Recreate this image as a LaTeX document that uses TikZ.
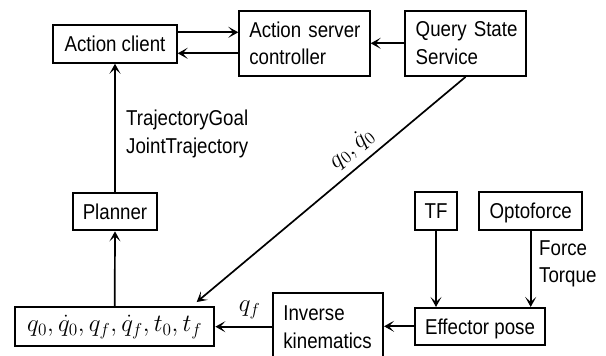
\documentclass[tikz,border=0pt]{standalone}
\usepackage{graphicx}
\usepackage{fontspec}
\setmainfont{Liberation Sans}[FakeStretch=0.87]
\usetikzlibrary{arrows.meta,calc}

% math set a little larger than the surrounding text
\newcommand{\bigmath}[1]{\scalebox{1.2}{$#1$}}

\begin{document}
\begin{tikzpicture}[x=1pt,y=-1pt,
  font=\fontsize{21.5}{27.5}\selectfont,
  box/.style={draw, line width=2pt, inner sep=0pt},
  lbl/.style={inner sep=0pt},
  arr/.style={line width=1.7pt, -{Stealth[length=10pt, width=11pt, inset=5pt]}}]

\useasboundingbox (0,0) rectangle (606,356);

% blocks
\node[box, minimum width=123.4pt, minimum height=37.7pt, text depth=0pt] (ac) at (115,43.9) {Action client};
\node[box, text width=110.4pt, inner xsep=10pt, minimum height=65.3pt, align=left] (asc) at (304.5,43.3) {\mbox{Action server}\\controller};
\node[box, text width=99.6pt, inner xsep=11pt, minimum height=65.3pt, align=left] (qss) at (465.5,43.3) {\mbox{Query State}\\Service};
\node[box, minimum width=84.6pt, minimum height=37.3pt, text depth=0pt] (planner) at (115,211.7) {Planner};
\node[box, minimum width=199.3pt, minimum height=39.3pt] (qbox) at (114.7,326.7) {\bigmath{q_0,\dot q_0,q_f,\dot q_f,t_0,t_f}};
\node[box, text width=89.7pt, inner xsep=10pt, minimum height=68pt, align=left] (ik) at (328.2,327) {Inverse\\\mbox{kinematics}};
\node[box, minimum width=130.6pt, minimum height=36.7pt, text depth=0pt] (eff) at (480,326.3) {Effector pose};
\node[box, minimum width=42.6pt, minimum height=37.7pt, text depth=0pt] (tf) at (436,210.8) {TF};
\node[box, minimum width=103.3pt, minimum height=37.7pt, text depth=0pt] (opto) at (530.7,210.8) {Optoforce};

% free labels
\node[lbl, anchor=west, align=left] (trajlbl) at (126,133.7) {TrajectoryGoal\\JointTrajectory};
\node[lbl, anchor=west, align=left] (ftlbl) at (539,263.9) {Force\\Torque};

% helper points
\coordinate (a1) at ([yshift=11.6pt]ac.east);
\coordinate (a2) at ([yshift=-9.4pt]ac.east);
\coordinate (qin) at ([xshift=82pt,yshift=4pt]qbox.north);

% connectors
\draw[arr] (a1) -- (a1 -| asc.west);
\draw[arr] (a2 -| asc.west) -- (a2);
\draw[arr] (qss.west) -- (asc.east);
\draw[arr] (qss.south) -- node[lbl, sloped, above=7pt, pos=0.38] (q0lbl) {\bigmath{q_0,\dot q_0}} (qin);
\draw[arr] (planner.north) -- (ac.south);
\draw[arr] (qbox.north) -- (planner.south);
\draw[arr] (tf.south) -- (tf.south |- eff.north);
\draw[arr] (opto.south) -- (opto.south |- eff.north);
\draw[arr] (eff.west) -- (eff.west -| ik.east);
\draw[arr] (qbox.east -| ik.west) -- node[lbl, pos=0.4, above=7pt] (qflbl) {\bigmath{q_f}} (qbox.east);
\end{tikzpicture}
\end{document}
